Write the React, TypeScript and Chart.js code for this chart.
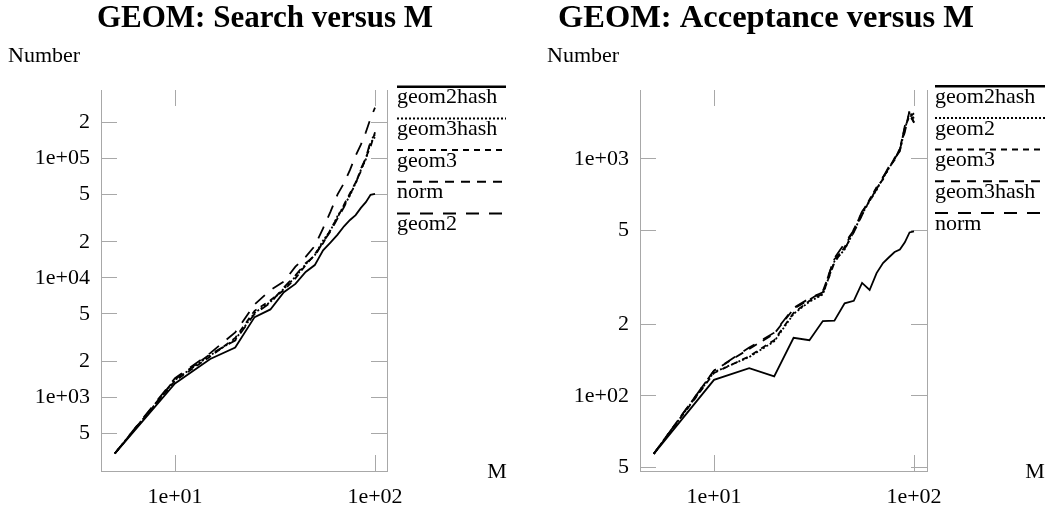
import React, { useEffect, useRef } from 'react';
import { Chart, registerables } from 'chart.js';
Chart.register(...registerables);

const FONT = '"Liberation Serif", "Times New Roman", serif';

const M = [5, 10, 15, 20, 25, 30, 35, 40, 45, 50, 55, 60, 65, 70, 75, 80, 85, 90, 95, 100];

// GEOM: Search versus M
const searchGeom2hash = [340, 1310, 2100, 2620, 4700, 5450, 7600, 8900, 11200, 12800, 17000, 19800, 23000, 27000, 30500, 33500, 38500, 43000, 49500, 50500];
const searchGeom3hash = [340, 1400, 2250, 3050, 5100, 6300, 8100, 10200, 13000, 15500, 20500, 25000, 33000, 40000, 49000, 62000, 80000, 98000, 135000, 150000];
const searchGeom3 = [340, 1380, 2200, 3150, 5300, 6500, 7900, 9900, 12800, 15800, 19500, 25500, 32000, 41000, 51000, 63000, 78000, 102000, 125000, 165000];
const searchNorm = [340, 1420, 2300, 3000, 5000, 6200, 8300, 10500, 13300, 15200, 20000, 24500, 31500, 39000, 50000, 61000, 82000, 100000, 140000, 158000];
const searchGeom2 = [340, 1450, 2350, 3500, 6000, 7900, 9300, 12400, 15000, 18500, 26000, 36000, 50000, 62000, 80000, 105000, 130000, 165000, 215000, 265000];

// GEOM: Acceptance versus M
const accGeom2hash = [57, 117, 131, 121, 176, 172, 207, 208, 246, 252, 300, 280, 330, 364, 385, 405, 415, 445, 490, 495];
const accGeom2 = [57, 126, 146, 170, 222, 250, 268, 370, 415, 495, 585, 665, 740, 830, 915, 1000, 1090, 1330, 1580, 1480];
const accGeom3 = [57, 125, 147, 172, 224, 252, 270, 365, 425, 505, 595, 675, 760, 820, 925, 990, 1110, 1360, 1520, 1430];
const accGeom3hash = [57, 128, 158, 183, 233, 255, 276, 378, 418, 490, 580, 670, 745, 840, 910, 1010, 1100, 1300, 1600, 1420];
const accNorm = [57, 128, 160, 185, 235, 258, 274, 382, 440, 500, 600, 660, 755, 835, 930, 1005, 1080, 1380, 1500, 1560];

const searchYTicks = [500, 1000, 2000, 5000, 10000, 20000, 50000, 100000, 200000];
const searchYLabels = ['5', '1e+03', '2', '5', '1e+04', '2', '5', '1e+05', '2'];
const accYTicks = [50, 100, 200, 500, 1000];
const accYLabels = ['5', '1e+02', '2', '5', '1e+03'];
const xTicks = [10, 100];
const xLabels = ['1e+01', '1e+02'];

const DASH: Record<string, number[]> = {
  solid: [],
  dotted: [2, 2],
  dashed: [6, 5],
  medium: [9, 7],
  long: [13, 10],
};

const GRAY = '#a8a8a8';

const annotPlugin = {
  id: 'annot',
  afterDraw(chart: any, _args: any, opts: any) {
    const ctx = chart.ctx;
    ctx.save();
    ctx.fillStyle = '#000';
    ctx.textBaseline = 'alphabetic';
    ctx.font = `bold ${opts.titleSize}px ${FONT}`;
    ctx.textAlign = 'center';
    ctx.fillText(opts.title, opts.titleX, opts.titleY);
    ctx.font = `22px ${FONT}`;
    ctx.textAlign = 'left';
    ctx.fillText(opts.yTitle, opts.yTitleX, opts.yTitleY);
    ctx.textAlign = 'center';
    ctx.fillText(opts.xTitle, opts.xTitleX, opts.xTitleY);
    chart.data.datasets.forEach((ds: any, i: number) => {
      const y = opts.legendY + i * opts.legendStep;
      ctx.beginPath();
      ctx.setLineDash(ds.borderDash || []);
      ctx.lineWidth = i === 0 ? 2.5 : 2;
      ctx.strokeStyle = '#000';
      ctx.moveTo(opts.legendX, y);
      ctx.lineTo(opts.legendX + opts.legendW, y);
      ctx.stroke();
      ctx.setLineDash([]);
      ctx.textAlign = 'left';
      ctx.fillText(ds.label, opts.legendX, y + 16.6);
    });
    ctx.restore();
  },
};

type Series = { label: string; values: number[]; dash: number[] };

function makeConfig(p: {
  series: Series[];
  yMin: number; yMax: number; xMin: number; xMax: number;
  yTicks: number[]; yLabels: string[];
  padding: { left: number; right: number; top: number; bottom: number };
  annot: any;
}) {
  const tickFont = { family: FONT, size: 22 };
  const grid = { display: true, drawOnChartArea: false, drawTicks: true, tickLength: -16, color: GRAY, lineWidth: 1 };
  return {
    type: 'line' as const,
    data: {
      datasets: p.series.map((s) => ({
        label: s.label,
        data: M.map((m, i) => ({ x: m, y: s.values[i] })),
        borderColor: '#000',
        borderWidth: 1.8,
        borderDash: s.dash,
        pointRadius: 0,
        tension: 0,
        fill: false,
      })),
    },
    options: {
      responsive: false,
      animation: false,
      layout: { padding: p.padding },
      plugins: { legend: { display: false }, tooltip: { enabled: false }, annot: p.annot },
      scales: {
        x: {
          type: 'logarithmic', position: 'bottom', min: p.xMin, max: p.xMax, bounds: 'data',
          afterBuildTicks: (s: any) => { s.ticks = xTicks.map((v) => ({ value: v })); },
          afterFit: (s: any) => { s.height = 43; },
          ticks: {
            autoSkip: false, maxRotation: 0, minRotation: 0, padding: 29, color: '#000', font: tickFont,
            callback: (v: any) => xLabels[xTicks.indexOf(Number(v))] ?? '',
          },
          grid, border: { display: true, color: GRAY, width: 1 },
        },
        x2: {
          type: 'logarithmic', axis: 'x', position: 'top', min: p.xMin, max: p.xMax, bounds: 'data',
          afterBuildTicks: (s: any) => { s.ticks = xTicks.map((v) => ({ value: v })); },
          afterFit: (s: any) => { s.height = 0; },
          ticks: { display: false, autoSkip: false },
          grid, border: { display: false },
        },
        y: {
          type: 'logarithmic', position: 'left', min: p.yMin, max: p.yMax, bounds: 'data',
          afterBuildTicks: (s: any) => { s.ticks = p.yTicks.map((v) => ({ value: v })); },
          afterFit: (s: any) => { s.width = 90; },
          ticks: {
            autoSkip: false, padding: 27, color: '#000', font: tickFont,
            callback: (v: any) => p.yLabels[p.yTicks.indexOf(Number(v))] ?? '',
          },
          grid, border: { display: true, color: GRAY, width: 1 },
        },
        y2: {
          type: 'logarithmic', axis: 'y', position: 'right', min: p.yMin, max: p.yMax, bounds: 'data',
          afterBuildTicks: (s: any) => { s.ticks = p.yTicks.map((v) => ({ value: v })); },
          afterFit: (s: any) => { s.width = 0; },
          ticks: { display: false, autoSkip: false },
          grid, border: { display: true, color: GRAY, width: 1 },
        },
      },
    },
    plugins: [annotPlugin],
  };
}

function Panel({ left, config }: { left: number; config: any }) {
  const ref = useRef<HTMLCanvasElement>(null);
  useEffect(() => {
    const chart = new Chart(ref.current as HTMLCanvasElement, config);
    return () => chart.destroy();
  }, []);
  return (
    <div style={{ position: 'absolute', left, top: 0, width: 524, height: 514 }}>
      <canvas ref={ref} width={524} height={514} style={{ width: 524, height: 514, display: 'block' }} />
    </div>
  );
}

const searchConfig = makeConfig({
  series: [
    { label: 'geom2hash', values: searchGeom2hash, dash: DASH.solid },
    { label: 'geom3hash', values: searchGeom3hash, dash: DASH.dotted },
    { label: 'geom3', values: searchGeom3, dash: DASH.dashed },
    { label: 'norm', values: searchNorm, dash: DASH.medium },
    { label: 'geom2', values: searchGeom2, dash: DASH.long },
  ],
  xMin: Math.pow(10, 0.63), xMax: Math.pow(10, 2.06),
  yMin: Math.pow(10, 2.3855), yMax: Math.pow(10, 5.571),
  yTicks: searchYTicks, yLabels: searchYLabels,
  padding: { left: 11, right: 137, top: 90, bottom: 0 },
  annot: {
    title: 'GEOM: Search versus M', titleSize: 31, titleX: 265, titleY: 27,
    yTitle: 'Number', yTitleX: 8, yTitleY: 62,
    xTitle: 'M', xTitleX: 497, xTitleY: 478,
    legendX: 397, legendY: 86.7, legendStep: 31.7, legendW: 109,
  },
});

const accConfig = makeConfig({
  series: [
    { label: 'geom2hash', values: accGeom2hash, dash: DASH.solid },
    { label: 'geom2', values: accGeom2, dash: DASH.dotted },
    { label: 'geom3', values: accGeom3, dash: DASH.dashed },
    { label: 'geom3hash', values: accGeom3hash, dash: DASH.medium },
    { label: 'norm', values: accNorm, dash: DASH.long },
  ],
  xMin: Math.pow(10, 0.63), xMax: Math.pow(10, 2.065),
  yMin: Math.pow(10, 1.6835), yMax: Math.pow(10, 3.2911),
  yTicks: accYTicks, yLabels: accYLabels,
  padding: { left: 26, right: 121, top: 90, bottom: 0 },
  annot: {
    title: 'GEOM: Acceptance versus M', titleSize: 32.5, titleX: 242, titleY: 27,
    yTitle: 'Number', yTitleX: 23, yTitleY: 62,
    xTitle: 'M', xTitleX: 511, xTitleY: 478,
    legendX: 411, legendY: 86.2, legendStep: 31.7, legendW: 110,
  },
});

export default function App() {
  return (
    <div style={{ position: 'fixed', left: 0, top: 0, width: 1048, height: 514, background: '#fff', overflow: 'hidden' }}>
      <Panel left={0} config={searchConfig} />
      <Panel left={524} config={accConfig} />
    </div>
  );
}
